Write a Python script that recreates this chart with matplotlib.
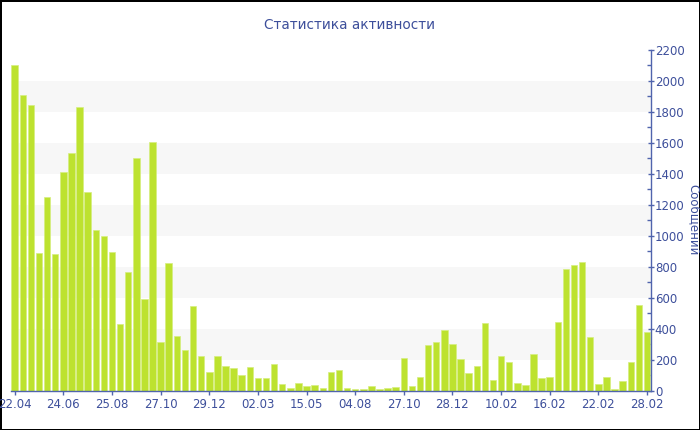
import matplotlib
matplotlib.use("Agg")
import matplotlib.pyplot as plt
from matplotlib.ticker import MultipleLocator

values = [2100, 1910, 1845, 890, 1250, 885, 1415, 1536, 1829, 1286,
          1040, 1001, 897, 429, 766, 1501, 593, 1607, 317, 824,
          354, 263, 550, 224, 119, 226, 157, 149, 99, 151,
          82, 82, 175, 41, 19, 47, 28, 37, 19, 121,
          134, 19, 13, 13, 32, 11, 17, 26, 209, 32,
          88, 296, 313, 393, 304, 203, 116, 160, 440, 69,
          222, 188, 47, 37, 239, 84, 88, 444, 783, 811,
          828, 349, 45, 91, 13, 60, 183, 552, 382]
tick_labels = ["22.04", "24.06", "25.08", "27.10", "29.12", "02.03", "15.05",
               "04.08", "27.10", "28.12", "10.02", "16.02", "22.02", "28.02"]
label_step = 6
title = "Статистика активности"
ylabel = "Сообщений"

text_color = "#3d4f9b"
axis_color = "#5064ad"
bar_color = "#bde22f"
band_color = "#f7f7f7"

fig = plt.figure(figsize=(7, 4.3), dpi=100, edgecolor="black", linewidth=2)
W, H = 700, 430
ax = fig.add_axes([11 / W, (H - 390.7) / H, (650.7 - 11) / W, (390.7 - 50) / H])

x = list(range(len(values)))
for lo in range(200, 2200, 400):
    ax.axhspan(lo, lo + 200, color=band_color, zorder=0, lw=0)
ax.bar(x, values, width=0.8, color=bar_color, edgecolor="#d6ee80",
       linewidth=0.5, zorder=2)

ax.set_xlim(-0.46, len(values) - 1 + 0.46)
ax.set_ylim(0, 2200)

ax.set_xticks(x[::label_step])
ax.set_xticklabels(tick_labels)
ax.yaxis.tick_right()
ax.yaxis.set_major_locator(MultipleLocator(200))
ax.yaxis.set_minor_locator(MultipleLocator(100))

for s in ["left", "top"]:
    ax.spines[s].set_visible(False)
for s in ["right", "bottom"]:
    ax.spines[s].set_color(axis_color)
    ax.spines[s].set_linewidth(1)

ax.tick_params(axis="x", colors=axis_color, labelcolor=text_color,
               labelsize=8.5, length=3, width=1, pad=2)
ax.tick_params(axis="y", which="major", colors=axis_color, labelcolor=text_color,
               labelsize=8.5, direction="inout", length=4, width=1, pad=1)
ax.tick_params(axis="y", which="minor", colors=axis_color, direction="in",
               length=3, width=1)
ax.set_facecolor("white")

fig.text(0.5, 1 - 25 / H, title, ha="center", va="center",
         fontsize=9.8, color=text_color)
fig.text(693.5 / W, 1 - 220 / H, ylabel, ha="center", va="center",
         rotation=270, fontsize=8.5, color=text_color)

fig.savefig("out.png", dpi=100, edgecolor=fig.get_edgecolor())
